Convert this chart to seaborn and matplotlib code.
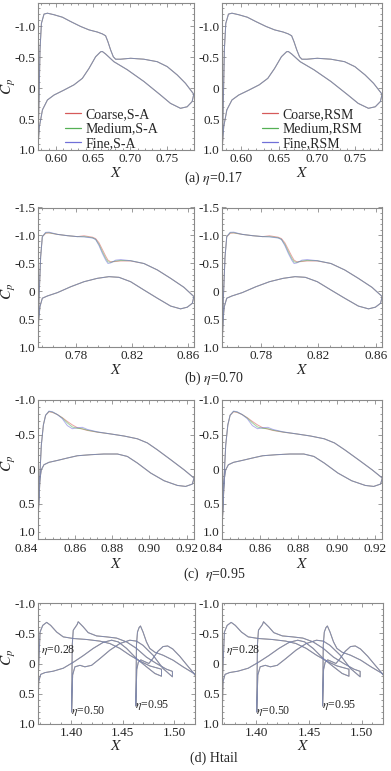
import numpy as np
import pandas as pd
import matplotlib
matplotlib.use('Agg')
import matplotlib.pyplot as plt
import seaborn as sns
from matplotlib.ticker import AutoMinorLocator

sns.set_style('ticks')
plt.rcParams['font.family'] = ['Liberation Serif', 'DejaVu Serif']
plt.rcParams['mathtext.fontset'] = 'stix'

# ---- data ----
grids = ['Coarse', 'Medium', 'Fine']
grid_colors = {'Coarse': '#d65a5a', 'Medium': '#55b055', 'Fine': '#7070d8'}
captions = ['(a) $\\eta$=0.17', '(b) $\\eta$=0.70', '(c)  $\\eta$=0.95', '(d) Htail']
models = ['S-A', 'RSM']

# (a) eta = 0.17
xa_up = [0.5757, 0.5771, 0.5784, 0.5803, 0.5838, 0.5884, 0.5973, 0.6086, 0.6197, 0.6332,
         0.6444, 0.6557, 0.6624, 0.6668, 0.6699, 0.6736, 0.6772, 0.6803, 0.6870, 0.7005,
         0.7184, 0.7364, 0.7499, 0.7634, 0.7745, 0.7857]
cpa_up = [0.945, 0.19, -0.62, -1.05, -1.20, -1.215, -1.19, -1.15, -1.08, -1.00,
          -0.945, -0.91, -0.88, -0.85, -0.755, -0.62, -0.51, -0.47, -0.47, -0.485,
          -0.47, -0.43, -0.35, -0.215, -0.08, 0.097]
xa_lo = [0.5757, 0.5776, 0.5817, 0.5884, 0.5973, 0.6107, 0.6242, 0.6355, 0.6444, 0.6534,
         0.6601, 0.6624, 0.6668, 0.6780, 0.6960, 0.7184, 0.7409, 0.7543, 0.7678, 0.7768,
         0.7835, 0.7857]
cpa_lo = [0.945, 0.62, 0.35, 0.19, 0.11, 0.03, -0.055, -0.16, -0.32, -0.51,
          -0.59, -0.595, -0.555, -0.43, -0.30, -0.11, 0.11, 0.245, 0.325, 0.30,
          0.215, 0.097]

# (b) eta = 0.70
xb_up = [0.7530, 0.7537, 0.7549, 0.7561, 0.7585, 0.7609, 0.7669, 0.7740, 0.7811, 0.7859,
         0.7919, 0.7942, 0.7966, 0.7990, 0.8014, 0.8030, 0.8049, 0.8085, 0.8121, 0.8192,
         0.8287, 0.8383, 0.8478, 0.8573, 0.8644]
cpb_up_coarse = [0.90, 0.15, -0.62, -0.98, -1.04, -1.045, -1.02, -0.997, -0.98, -0.995,
                 -0.97, -0.945, -0.87, -0.75, -0.63, -0.56, -0.53, -0.535, -0.545, -0.545,
                 -0.50, -0.385, -0.235, -0.075, 0.09]
cpb_up_medium = [0.90, 0.15, -0.62, -0.98, -1.05, -1.05, -1.02, -0.997, -0.98, -0.98,
                 -0.96, -0.93, -0.84, -0.71, -0.59, -0.53, -0.52, -0.545, -0.555, -0.55,
                 -0.50, -0.385, -0.235, -0.075, 0.09]
cpb_up_fine = [0.90, 0.15, -0.62, -0.98, -1.057, -1.06, -1.02, -0.997, -0.98, -0.975,
               -0.955, -0.93, -0.82, -0.68, -0.56, -0.50, -0.51, -0.56, -0.57, -0.55,
               -0.50, -0.385, -0.235, -0.075, 0.09]
xb_lo = [0.7530, 0.7535, 0.7544, 0.7561, 0.7597, 0.7669, 0.7764, 0.7859, 0.7954, 0.8037,
         0.8109, 0.8192, 0.8287, 0.8383, 0.8478, 0.8549, 0.8597, 0.8633, 0.8644]
cpb_lo = [0.90, 0.51, 0.27, 0.12, 0.08, 0.02, -0.085, -0.175, -0.235, -0.265,
          -0.253, -0.175, -0.027, 0.12, 0.26, 0.31, 0.28, 0.21, 0.09]

# (c) eta = 0.95
xc_up = [0.8400, 0.8405, 0.8411, 0.8418, 0.8429, 0.8441, 0.8459, 0.8478, 0.8504, 0.8531,
         0.8558, 0.8585, 0.8612, 0.8639, 0.8666, 0.8720, 0.8791, 0.8863, 0.8935, 0.8989,
         0.9043, 0.9115, 0.9186, 0.9240]
cpc_up_coarse = [0.78, 0.37, 0.03, -0.35, -0.64, -0.78, -0.83, -0.82, -0.79, -0.745,
                 -0.69, -0.64, -0.60, -0.58, -0.56, -0.535, -0.51, -0.48, -0.44, -0.38,
                 -0.28, -0.137, 0.007, 0.127]
cpc_up_medium = [0.78, 0.37, 0.03, -0.35, -0.64, -0.78, -0.835, -0.826, -0.79, -0.74,
                 -0.67, -0.61, -0.59, -0.585, -0.565, -0.537, -0.51, -0.48, -0.44, -0.38,
                 -0.28, -0.137, 0.007, 0.127]
cpc_up_fine = [0.78, 0.37, 0.03, -0.35, -0.64, -0.78, -0.84, -0.83, -0.79, -0.73,
               -0.63, -0.585, -0.60, -0.605, -0.575, -0.54, -0.51, -0.48, -0.44, -0.38,
               -0.28, -0.137, 0.007, 0.127]
xc_lo = [0.8400, 0.8404, 0.8411, 0.8418, 0.8432, 0.8459, 0.8504, 0.8558, 0.8612, 0.8684,
         0.8755, 0.8828, 0.8881, 0.8935, 0.9007, 0.9079, 0.9151, 0.9195, 0.9231, 0.9240]
cpc_lo = [0.78, 0.51, 0.13, 0.007, -0.065, -0.10, -0.127, -0.162, -0.195, -0.21,
          -0.22, -0.22, -0.185, -0.09, 0.055, 0.166, 0.234, 0.248, 0.214, 0.127]

# (d) Htail, three stations
stations = ['0.28', '0.50', '0.95']
xd_up = {
    '0.28': [1.3680, 1.3683, 1.3700, 1.3726, 1.3764, 1.3803, 1.3861, 1.3925, 1.4022, 1.4151,
             1.4280, 1.4377, 1.4474, 1.4571, 1.4668, 1.4765, 1.4878],
    '0.50': [1.4006, 1.4012, 1.4022, 1.4060, 1.4070, 1.4119, 1.4167, 1.4248, 1.4345, 1.4442,
             1.4539, 1.4635, 1.4732, 1.4829, 1.4926, 1.4984],
    '0.95': [1.4629, 1.4635, 1.4645, 1.4661, 1.4674, 1.4699, 1.4732, 1.4764, 1.4813, 1.4893,
             1.4990, 1.5087, 1.5207],
}
cpd_up = {
    '0.28': [0.80, 0.20, -0.52, -0.63, -0.68, -0.63, -0.52, -0.44, -0.413, -0.397,
             -0.37, -0.33, -0.25, -0.137, -0.04, 0.04, 0.094],
    '0.50': [0.80, -0.30, -0.55, -0.645, -0.69, -0.605, -0.51, -0.456, -0.44, -0.42,
             -0.357, -0.25, -0.105, 0.0, 0.094, 0.13],
    '0.95': [0.70, -0.30, -0.52, -0.595, -0.62, -0.52, -0.357, -0.25, -0.187, -0.137,
             -0.055, 0.055, 0.18],
}
xd_lo = {
    '0.28': [1.3680, 1.3687, 1.3706, 1.3748, 1.3828, 1.3925, 1.4022, 1.4119, 1.4216, 1.4313,
             1.4394, 1.4459, 1.4539, 1.4636, 1.4733, 1.4814, 1.4878],
    '0.50': [1.4006, 1.4016, 1.4038, 1.4087, 1.4135, 1.4200, 1.4280, 1.4377, 1.4474, 1.4571,
             1.4635, 1.4699, 1.4796, 1.4893, 1.4984],
    '0.95': [1.4629, 1.4638, 1.4653, 1.4677, 1.4716, 1.4755, 1.4793, 1.4842, 1.4893, 1.4938,
             1.4987, 1.5055, 1.5122, 1.5171, 1.5207],
}
cpd_lo = {
    '0.28': [0.80, 0.30, 0.18, 0.15, 0.127, 0.078, -0.02, -0.13, -0.25, -0.35,
             -0.385, -0.357, -0.25, -0.08, 0.055, 0.165, 0.21],
    '0.50': [0.80, 0.19, 0.055, 0.03, 0.055, 0.03, -0.08, -0.22, -0.33, -0.385,
             -0.37, -0.30, -0.137, 0.083, 0.22],
    '0.95': [0.70, 0.10, -0.02, -0.06, -0.03, 0.0, -0.08, -0.20, -0.28, -0.29,
             -0.24, -0.12, 0.02, 0.12, 0.20],
}
# label anchor (X, Cp) for the station labels in (d)
station_label_pos = {'0.28': (1.3712, -0.22), '0.50': (1.4000, 0.78), '0.95': (1.4622, 0.69)}

# axis settings per row
xlims = [(0.5757, 0.7860), (0.7530, 0.8645), (0.8400, 0.9240), (1.368, 1.5203)]
ylims = [(1.0, -1.38), (1.0, -1.5), (1.0, -1.0), (1.0, -1.0)]
xticks = [[0.60, 0.65, 0.70, 0.75], [0.78, 0.82, 0.86], [0.84, 0.86, 0.88, 0.90, 0.92], [1.40, 1.45, 1.50]]
xticklabels = [['0.60', '0.65', '0.70', '0.75'], ['0.78', '0.82', '0.86'],
               ['0.84', '0.86', '0.88', '0.90', '0.92'], ['1.40', '1.45', '1.50']]
yticks = [[-1.0, -0.5, 0, 0.5, 1.0], [-1.5, -1.0, -0.5, 0, 0.5, 1.0],
          [-1.0, -0.5, 0, 0.5, 1.0], [-1.0, -0.5, 0, 0.5, 1.0]]
yticklabels = [['-1.0', '-0.5', '0', '0.5', '1.0'], ['-1.5', '-1.0', '-0.5', '0', '0.5', '1.0'],
               ['-1.0', '-0.5', '0', '0.5', '1.0'], ['-1.0', '-0.5', '0', '0.5', '1.0']]

# ---- layout (pixels of a 391x771 figure) ----
W, H = 391, 771
rows_px = [(3, 150), (207.5, 347.5), (400, 538.5), (603, 724)]
cols_px = [(38, 194), (222.3, 382.3)]
cp_label_y = [0.435, 0.40, 0.545, 0.55]
xlabel_y = [-0.11, -0.11, -0.13, -0.12]
caption_y = [178, 378, 574, 758]

fig = plt.figure(figsize=(W / 100, H / 100), dpi=100)


def closed_loop(xu, cu, xl, cl):
    return list(xu) + list(xl[::-1]), list(cu) + list(cl[::-1])


def row_curves(r, grid):
    if r == 0:
        return [closed_loop(xa_up, cpa_up, xa_lo, cpa_lo)]
    if r == 1:
        cu = {'Coarse': cpb_up_coarse, 'Medium': cpb_up_medium, 'Fine': cpb_up_fine}[grid]
        return [closed_loop(xb_up, cu, xb_lo, cpb_lo)]
    if r == 2:
        cu = {'Coarse': cpc_up_coarse, 'Medium': cpc_up_medium, 'Fine': cpc_up_fine}[grid]
        return [closed_loop(xc_up, cu, xc_lo, cpc_lo)]
    return [closed_loop(xd_up[s], cpd_up[s], xd_lo[s], cpd_lo[s]) for s in stations]


for r in range(4):
    top, bot = rows_px[r]
    for c in range(2):
        left, right = cols_px[c]
        if r == 3:
            right = right + 1
        ax = fig.add_axes([left / W, 1 - bot / H, (right - left) / W, (bot - top) / H])
        for g in grids:
            for k, (xx, cc) in enumerate(row_curves(r, g)):
                df = pd.DataFrame({'X': xx, 'Cp': cc})
                lab = f'{g},{models[c]}' if (r == 0 and k == 0) else None
                sns.lineplot(data=df, x='X', y='Cp', sort=False, estimator=None,
                             color=grid_colors[g], lw=0.7, alpha=0.55, label=lab, ax=ax)
        ax.set_xlim(*xlims[r])
        ax.set_ylim(*ylims[r])
        ax.set_xticks(xticks[r])
        ax.set_xticklabels(xticklabels[r])
        ax.set_yticks(yticks[r])
        ax.set_yticklabels(yticklabels[r])
        ax.xaxis.set_minor_locator(AutoMinorLocator(5))
        ax.yaxis.set_minor_locator(AutoMinorLocator(5))
        ax.tick_params(which='both', direction='in', top=True, right=True,
                       color='#8a8a8a', width=0.6, labelsize=9.5, pad=2)
        ax.tick_params(which='major', length=3)
        ax.tick_params(which='minor', length=1.5)
        if r == 2:
            # first x label sits left of the corner, bottom y label sits just above it
            ax.tick_params(axis='x', pad=3.5)
            ax.get_xticklabels()[0].set_ha('right')
            ax.get_yticklabels()[-1].set_va('bottom')
        for sp in ax.spines.values():
            sp.set_color('#8a8a8a')
            sp.set_linewidth(0.8)
        ax.set_xlabel('$X$', fontsize=11, labelpad=0)
        ax.xaxis.set_label_coords(0.5, xlabel_y[r])
        if c == 0:
            ax.set_ylabel('$C_p$', fontsize=11, labelpad=0)
            ax.yaxis.set_label_coords(-0.125, cp_label_y[r])
        else:
            ax.set_ylabel('')
        if r == 0:
            leg = ax.legend(loc='lower left', bbox_to_anchor=(0.17 if c == 0 else 0.245, 0.0),
                            frameon=False, borderpad=0, borderaxespad=0, handlelength=1.2,
                            handletextpad=0.3, labelspacing=0.1, fontsize=10)
            for h in leg.get_lines():
                h.set_alpha(1)
                h.set_linewidth(0.9)
        elif ax.get_legend() is not None:
            ax.get_legend().remove()
        if r == 3:
            for s in stations:
                px, py = station_label_pos[s]
                ax.text(px, py, f'$\\eta$={s}', fontsize=8.5, ha='left', va='center')

for r in range(4):
    fig.text(0.5 * (38 + 382) / W + 0.01, 1 - caption_y[r] / H, captions[r],
             fontsize=10, ha='center', va='center')

fig.savefig('out.png', dpi=100)
